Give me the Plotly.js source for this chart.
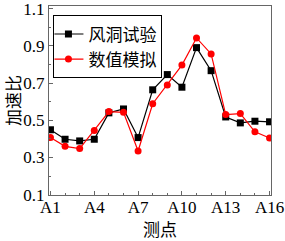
<!DOCTYPE html>
<html><head><meta charset="utf-8">
<script src="https://cdn.plot.ly/plotly-3.0.1.min.js"></script>
<style>body{margin:0;padding:0;background:#fff}#c{width:285px;height:241px}</style>
</head><body><div id="c"></div>
<script>
var points = [1,2,3,4,5,6,7,8,9,10,11,12,13,14,15,16];
var tickVals = [1,4,7,10,13,16];
var tickLabels = ["A1","A4","A7","A10","A13","A16"];
var yTickVals = [0.1,0.3,0.5,0.7,0.9,1.1];
var yTickLabels = ["0.1","0.3","0.5","0.7","0.9","1.1"];
var windTunnel = [0.449,0.398,0.389,0.398,0.540,0.561,0.407,0.664,0.746,0.678,0.891,0.767,0.518,0.486,0.495,0.492];
var numerical = [0.407,0.360,0.348,0.445,0.547,0.543,0.335,0.589,0.690,0.797,0.943,0.857,0.531,0.536,0.438,0.405];
var serif = "Liberation Serif, Times New Roman, serif";
var cjk = "Noto Sans CJK SC, sans-serif";
var traces = [
  {x: points, y: windTunnel, name: "风洞试验", type: "scatter", mode: "lines+markers",
   line: {color: "#000000", width: 1.2}, marker: {symbol: "square", size: 7, color: "#000000"}},
  {x: points, y: numerical, name: "数值模拟", type: "scatter", mode: "lines+markers",
   line: {color: "#ff0000", width: 1.2}, marker: {symbol: "circle", size: 7, color: "#ff0000"}}
];
var layout = {
  width: 285, height: 241,
  margin: {l: 49, r: 14, t: 6, b: 46},
  paper_bgcolor: "#fff", plot_bgcolor: "#fff",
  showlegend: true,
  legend: {x: 0.02, y: 0.95, xanchor: "left", yanchor: "top", bordercolor: "#000", borderwidth: 1,
    bgcolor: "#fff", font: {family: cjk, size: 17, color: "#000"}, tracegroupgap: 0, itemwidth: 30,
    indentation: -6},
  xaxis: {range: [0.9, 16.1], tickmode: "array", tickvals: tickVals, ticktext: tickLabels,
    ticks: "inside", ticklen: 4, tickcolor: "#666", showline: true, linecolor: "#666", linewidth: 1, mirror: true,
    showgrid: false, zeroline: false, ticklabelstandoff: -3, ticklabeloverflow: "allow",
    minor: {tickmode: "array", tickvals: points, ticks: "inside", ticklen: 2, tickcolor: "#666"},
    tickfont: {family: serif, size: 17, color: "#000"},
    title: {text: "测点", font: {family: cjk, size: 17, color: "#000"}, standoff: 6}},
  yaxis: {range: [0.098, 1.115], tickmode: "array", tickvals: yTickVals, ticktext: yTickLabels,
    ticks: "inside", ticklen: 4, tickcolor: "#666", showline: true, linecolor: "#666", linewidth: 1, mirror: true,
    showgrid: false, zeroline: false, ticklabeloverflow: "allow",
    minor: {tickmode: "array", tickvals: [0.2,0.4,0.6,0.8,1.0], ticks: "inside", ticklen: 2, tickcolor: "#666"},
    tickfont: {family: serif, size: 17, color: "#000"},
    title: {text: "加速比", font: {family: cjk, size: 17, color: "#000"}, standoff: 0}}
};
Plotly.newPlot("c", traces, layout, {displayModeBar: false, staticPlot: true});
</script></body></html>
